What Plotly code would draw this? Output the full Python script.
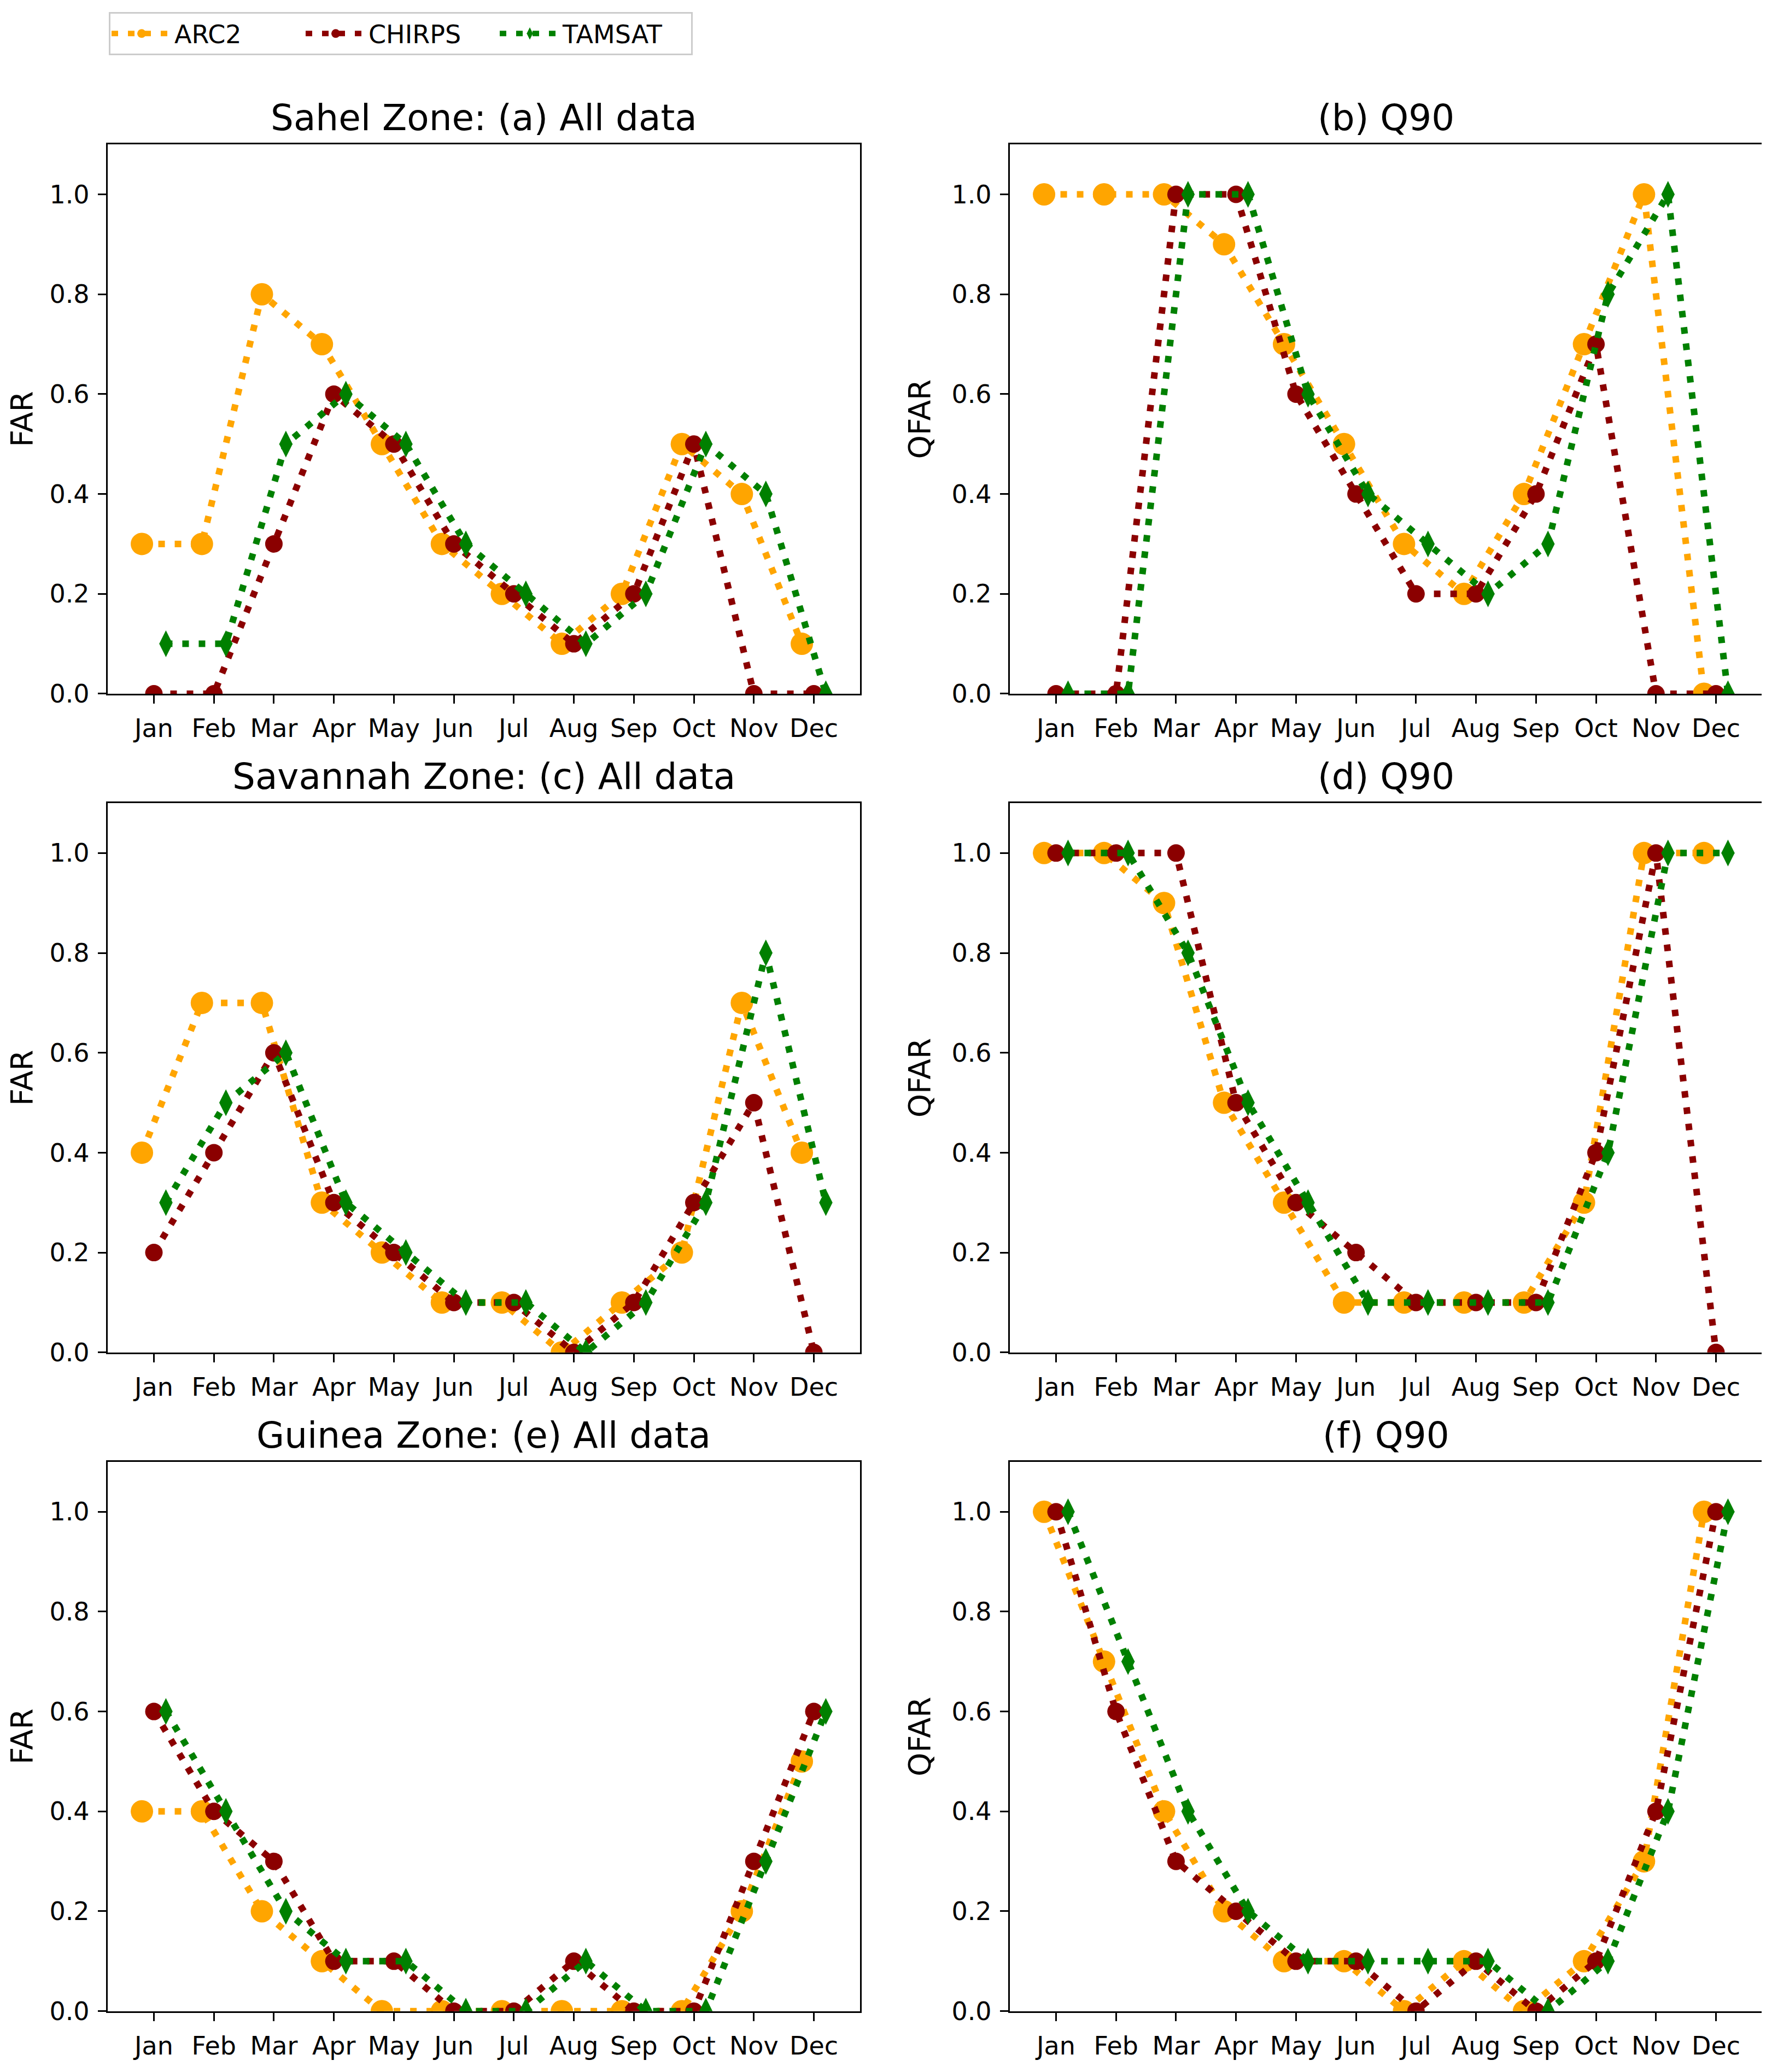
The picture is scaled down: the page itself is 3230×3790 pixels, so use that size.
import plotly.graph_objects as go
from plotly.subplots import make_subplots

# Měsíce na ose x
months = ["Jan", "Feb", "Mar", "Apr", "May", "Jun", "Jul", "Aug", "Sep", "Oct", "Nov", "Dec"]
y_ticks = [0.0, 0.2, 0.4, 0.6, 0.8, 1.0]

# Sahel - (a) All data
sahel_all_arc2 = [0.3, 0.3, 0.8, 0.7, 0.5, 0.3, 0.2, 0.1, 0.2, 0.5, 0.4, 0.1]
sahel_all_chirps = [0.0, 0.0, 0.3, 0.6, 0.5, 0.3, 0.2, 0.1, 0.2, 0.5, 0.0, 0.0]
sahel_all_tamsat = [0.1, 0.1, 0.5, 0.6, 0.5, 0.3, 0.2, 0.1, 0.2, 0.5, 0.4, 0.0]

# Sahel - (b) Q90
sahel_q90_arc2 = [1.0, 1.0, 1.0, 0.9, 0.7, 0.5, 0.3, 0.2, 0.4, 0.7, 1.0, 0.0]
sahel_q90_chirps = [0.0, 0.0, 1.0, 1.0, 0.6, 0.4, 0.2, 0.2, 0.4, 0.7, 0.0, 0.0]
sahel_q90_tamsat = [0.0, 0.0, 1.0, 1.0, 0.6, 0.4, 0.3, 0.2, 0.3, 0.8, 1.0, 0.0]

# Savannah - (c) All data
savannah_all_arc2 = [0.4, 0.7, 0.7, 0.3, 0.2, 0.1, 0.1, 0.0, 0.1, 0.2, 0.7, 0.4]
savannah_all_chirps = [0.2, 0.4, 0.6, 0.3, 0.2, 0.1, 0.1, 0.0, 0.1, 0.3, 0.5, 0.0]
savannah_all_tamsat = [0.3, 0.5, 0.6, 0.3, 0.2, 0.1, 0.1, 0.0, 0.1, 0.3, 0.8, 0.3]

# Savannah - (d) Q90
savannah_q90_arc2 = [1.0, 1.0, 0.9, 0.5, 0.3, 0.1, 0.1, 0.1, 0.1, 0.3, 1.0, 1.0]
savannah_q90_chirps = [1.0, 1.0, 1.0, 0.5, 0.3, 0.2, 0.1, 0.1, 0.1, 0.4, 1.0, 0.0]
savannah_q90_tamsat = [1.0, 1.0, 0.8, 0.5, 0.3, 0.1, 0.1, 0.1, 0.1, 0.4, 1.0, 1.0]

# Guinea - (e) All data
guinea_all_arc2 = [0.4, 0.4, 0.2, 0.1, 0.0, 0.0, 0.0, 0.0, 0.0, 0.0, 0.2, 0.5]
guinea_all_chirps = [0.6, 0.4, 0.3, 0.1, 0.1, 0.0, 0.0, 0.1, 0.0, 0.0, 0.3, 0.6]
guinea_all_tamsat = [0.6, 0.4, 0.2, 0.1, 0.1, 0.0, 0.0, 0.1, 0.0, 0.0, 0.3, 0.6]

# Guinea - (f) Q90
guinea_q90_arc2 = [1.0, 0.7, 0.4, 0.2, 0.1, 0.1, 0.0, 0.1, 0.0, 0.1, 0.3, 1.0]
guinea_q90_chirps = [1.0, 0.6, 0.3, 0.2, 0.1, 0.1, 0.0, 0.1, 0.0, 0.1, 0.4, 1.0]
guinea_q90_tamsat = [1.0, 0.7, 0.4, 0.2, 0.1, 0.1, 0.1, 0.1, 0.0, 0.1, 0.4, 1.0]

panel_titles = ["Sahel Zone: (a) All data", "(b) Q90",
                "Savannah Zone: (c) All data", "(d) Q90",
                "Guinea Zone: (e) All data", "(f) Q90"]
y_labels = ["FAR", "QFAR"]

panels = [
    (sahel_all_arc2, sahel_all_chirps, sahel_all_tamsat),
    (sahel_q90_arc2, sahel_q90_chirps, sahel_q90_tamsat),
    (savannah_all_arc2, savannah_all_chirps, savannah_all_tamsat),
    (savannah_q90_arc2, savannah_q90_chirps, savannah_q90_tamsat),
    (guinea_all_arc2, guinea_all_chirps, guinea_all_tamsat),
    (guinea_q90_arc2, guinea_q90_chirps, guinea_q90_tamsat),
]

# Styl jednotlivých produktů: jméno, barva, symbol, velikost, posun na ose x
styles = [
    ("ARC2", "orange", "circle", 41, -0.2),
    ("CHIRPS", "darkred", "circle", 32, 0.0),
    ("TAMSAT", "green", "diamond-tall", 35, 0.2),
]

W, H = 3230, 3790
FONT = "DejaVu Sans"

# Rozložení panelů v pixelech
col_x = [(189, 1565), (1839, 3215)]
row_y = [(258, 1270), (1471.5, 2483.5), (2685, 3697)]

fig = make_subplots(rows=3, cols=2)

for i, series in enumerate(panels):
    row, col = i // 2 + 1, i % 2 + 1
    for (name, color, symbol, size, shift), values in zip(styles, series):
        fig.add_trace(go.Scatter(
            x=[m + shift for m in range(len(months))],
            y=values,
            mode="lines+markers",
            name=name,
            legendgroup=name,
            showlegend=(i == 0),
            line=dict(color=color, width=12, dash="12px,18px"),
            marker=dict(color=color, symbol=symbol, size=size, line=dict(width=0)),
        ), row=row, col=col)

axis_common = dict(
    showline=True, linecolor="black", linewidth=3.3, mirror=True,
    ticks="outside", ticklen=15, tickwidth=3.3, tickcolor="black",
    showgrid=False, zeroline=False,
    tickfont=dict(family=FONT, size=46, color="black"),
)

for i in range(6):
    r, c = i // 2, i % 2
    x0, x1 = col_x[c]
    y0, y1 = row_y[r]
    fig.update_xaxes(
        domain=[x0 / W, x1 / W], range=[-0.77, 11.77],
        tickvals=list(range(len(months))), ticktext=months,
        ticklabelstandoff=6,
        row=r + 1, col=c + 1, **axis_common)
    fig.update_yaxes(
        domain=[1 - y1 / H, 1 - y0 / H], range=[0, 1.1],
        tickvals=y_ticks, ticktext=[f"{v:.1f}" for v in y_ticks],
        ticklabelstandoff=6,
        title=dict(text=y_labels[c], font=dict(family=FONT, size=55, color="black"), standoff=22),
        row=r + 1, col=c + 1, **axis_common)
    fig.add_annotation(
        text=panel_titles[i], xref="paper", yref="paper",
        x=(x0 + x1) / 2 / W, y=1 - (y0 - 49) / H,
        xanchor="center", yanchor="middle", showarrow=False,
        font=dict(family=FONT, size=66, color="black"))

fig.update_layout(
    width=W, height=H, autosize=False,
    margin=dict(l=0, r=0, t=0, b=0),
    paper_bgcolor="white", plot_bgcolor="white",
    font=dict(family=FONT, color="black"),
    legend=dict(
        orientation="h", x=191 / W, y=1 - 14 / H, xanchor="left", yanchor="top",
        font=dict(family=FONT, size=46, color="black"),
        bgcolor="white", bordercolor="#cccccc", borderwidth=3,
        itemsizing="trace", itemwidth=110, entrywidth=230,
    ),
)

fig.write_html("out.html")
